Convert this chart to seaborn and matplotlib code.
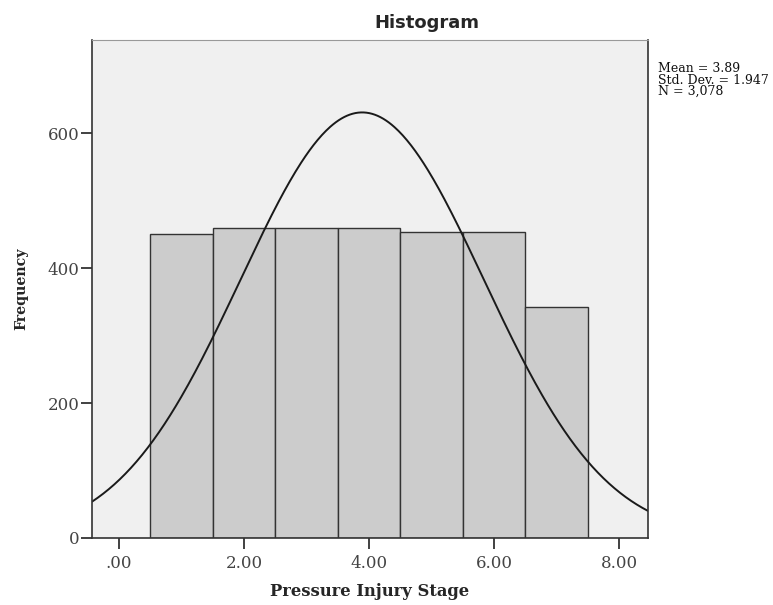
import numpy as np
import pandas as pd
import matplotlib
matplotlib.use("Agg")
import matplotlib.pyplot as plt
import seaborn as sns

# Data
stages = [1, 2, 3, 4, 5, 6, 7]
frequencies = [451, 459, 460, 459, 453, 453, 343]
x_ticks = [0, 2, 4, 6, 8]
x_tick_labels = [".00", "2.00", "4.00", "6.00", "8.00"]
y_ticks = [0, 200, 400, 600]
stat_mean = 3.89
stat_sd = 1.947
stat_n = 3078

sns.set_style("white")
plt.rcParams['font.family'] = ['DejaVu Serif']

fig = plt.figure(figsize=(7.73, 6.05), dpi=100)
ax = fig.add_axes([92/773, 67/605, (648-92)/773, (538-40)/605])
ax.set_facecolor("#F0F0F0")

df = pd.DataFrame({"stage": stages, "freq": frequencies})
sns.histplot(data=df, x="stage", weights="freq", binwidth=1.0, binrange=(0.5, 7.5),
             color="#CCCCCC", edgecolor="#333333", linewidth=1.0, alpha=1.0, ax=ax)

xmin, xmax = -0.43, 8.46
xs = np.linspace(xmin, xmax, 400)
ys = stat_n * 1.0 / (stat_sd * np.sqrt(2 * np.pi)) * np.exp(-0.5 * ((xs - stat_mean) / stat_sd) ** 2)
sns.lineplot(x=xs, y=ys, color="#1a1a1a", linewidth=1.4, ax=ax)

ax.set_xlim(xmin, xmax)
ax.set_ylim(0, 738)
ax.set_xticks(x_ticks)
ax.set_xticklabels(x_tick_labels)
ax.set_yticks(y_ticks)
ax.tick_params(axis="both", direction="out", length=8, width=1.3, color="#333333",
               labelsize=12, labelcolor="#444444", left=True, bottom=True)
ax.tick_params(axis="x", pad=4)
ax.tick_params(axis="y", pad=1)
for side in ["left", "bottom", "right"]:
    ax.spines[side].set_color("#333333")
    ax.spines[side].set_linewidth(1.2)
ax.spines["top"].set_color("#999999")

ax.set_xlabel("Pressure Injury Stage", fontsize=11.8, fontweight="bold", va="top")
ax.set_ylabel("Frequency", fontsize=10.2, fontweight="bold")
ax.xaxis.set_label_coords(0.5, (538 - 583) / 498)
ax.yaxis.set_label_coords((28 - 92) / 556, 0.5)

fig.text(427/773, 1 - 23/605, "Histogram", fontsize=13, fontweight="bold",
         family="DejaVu Sans", ha="center", va="center")

fig.text(658/773, 1 - 62/605,
         f"Mean = {stat_mean}\nStd. Dev. = {stat_sd}\nN = {stat_n:,}",
         fontsize=9, va="top", ha="left", linespacing=0.85, color="#111111")

fig.savefig("out.png", dpi=100, facecolor="white")
